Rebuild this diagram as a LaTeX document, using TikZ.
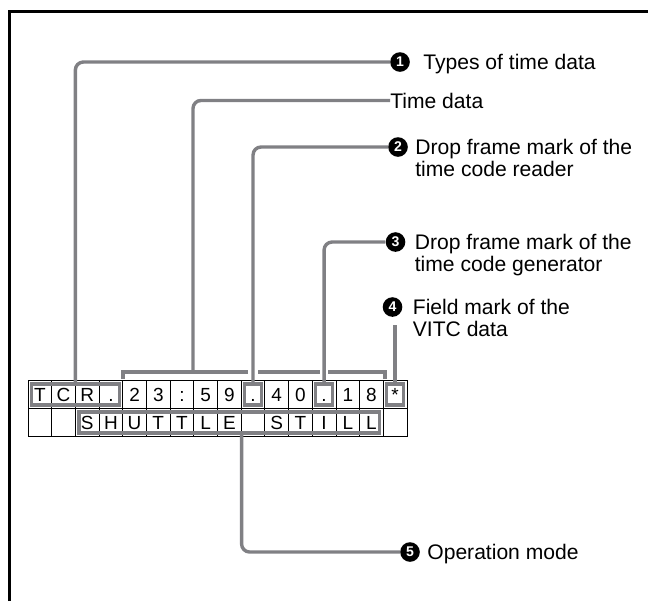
\documentclass[tikz,border=0pt]{standalone}
\usepackage{fontspec}
\setmainfont{Liberation Sans}
\usetikzlibrary{positioning,fit,calc}
\definecolor{leadgray}{RGB}{128,128,132}
\tikzstyle{cell} = [draw, line width=0.6pt, rectangle, inner sep=0pt, minimum width=5.922mm, minimum height=7mm, text height=9.8pt, text depth=0pt, font=\fontsize{13.5}{15}\selectfont]
\tikzstyle{markbox} = [draw=leadgray, line width=0.8mm, rectangle, inner sep=-1mm]
\tikzstyle{lead} = [draw=leadgray, line width=0.85mm, rounded corners=2mm]
\tikzstyle{num} = [circle, fill=black, text=white, inner sep=0pt, minimum size=4.9mm, font=\fontsize{10}{10}\selectfont\bfseries]
\tikzstyle{tag} = [inner sep=0pt, align=left, font=\fontsize{15}{15.65}\selectfont]

\begin{document}
\begin{tikzpicture}[x=0.25mm, y=-0.25mm]
    \useasboundingbox (0,0) rectangle (648,601);

    % Frame
    \draw[line width=0.75mm] (9,601) -- (9,11) -- (648,11);

    % Display cells, upper row
    \foreach \ch [count=\i] in {T,C,R,.,2,3,:,5,9,.,4,0,.,1,8,*} {
        \node[cell] (a\i) at ({28+23.6875*(\i-0.5)},394.5) {\ch};
    }
    % Display cells, lower row
    \foreach \ch [count=\i] in {{},{},S,H,U,T,T,L,E,{},S,T,I,L,L,{}} {
        \node[cell] (b\i) at ({28+23.6875*(\i-0.5)},422.5) {\ch};
    }

    % Marked fields
    \node[markbox, fit=(a1)(a4)] (tcr) {};
    \node[markbox, fit=(a10)] (dot1) {};
    \node[markbox, fit=(a13)] (dot2) {};
    \node[markbox, fit=(a16)] (star) {};
    \node[markbox, fit=(b3)(b15)] (still) {};

    % Time data bracket
    \draw[lead, sharp corners] (123,379) |- (248,372);
    \draw[lead] (258,372) -- (320,372);
    \draw[lead, sharp corners] (328,372) -| (385,379);
    \coordinate (tdbr) at (193,372);

    % Callouts
    \node[num] (n1) at (400,62) {1};
    \node[tag, anchor=base west] (l1) at ([shift={(13,7.5)}]n1.east) {Types of time data};
    \node[tag, anchor=base west] (tdl) at (390,108) {Time data};
    \node[num] (n2) at (398,147) {2};
    \node[tag, anchor=north west] (l2) at ([shift={(7,-7.7)}]n2.east) {Drop frame mark of the\\time code reader};
    \node[num] (n3) at (395.5,242) {3};
    \node[tag, anchor=north west] (l3) at ([shift={(9,-7.7)}]n3.east) {Drop frame mark of the\\time code generator};
    \node[num] (n4) at (392.5,307) {4};
    \node[tag, anchor=north west] (l4) at ([shift={(10,-7.7)}]n4.east) {Field mark of the\\VITC data};
    \coordinate (tag4) at (star.north |- 0,325);
    \node[num] (n5) at (410,552) {5};
    \node[tag, anchor=base west] (l5) at ([shift={(7,7.5)}]n5.east) {Operation mode};

    % Leader lines
    \draw[lead] (n1.west) -| (tcr.north);
    \draw[lead] (tdl.west) -| (tdbr);
    \draw[lead] (n2.west) -| (dot1.north);
    \draw[lead] (n3.west) -| (dot2.north);
    \draw[lead] (tag4) -- (star.north);
    \draw[lead] (n5.west) -| (still.south -| b9.east);
\end{tikzpicture}
\end{document}
